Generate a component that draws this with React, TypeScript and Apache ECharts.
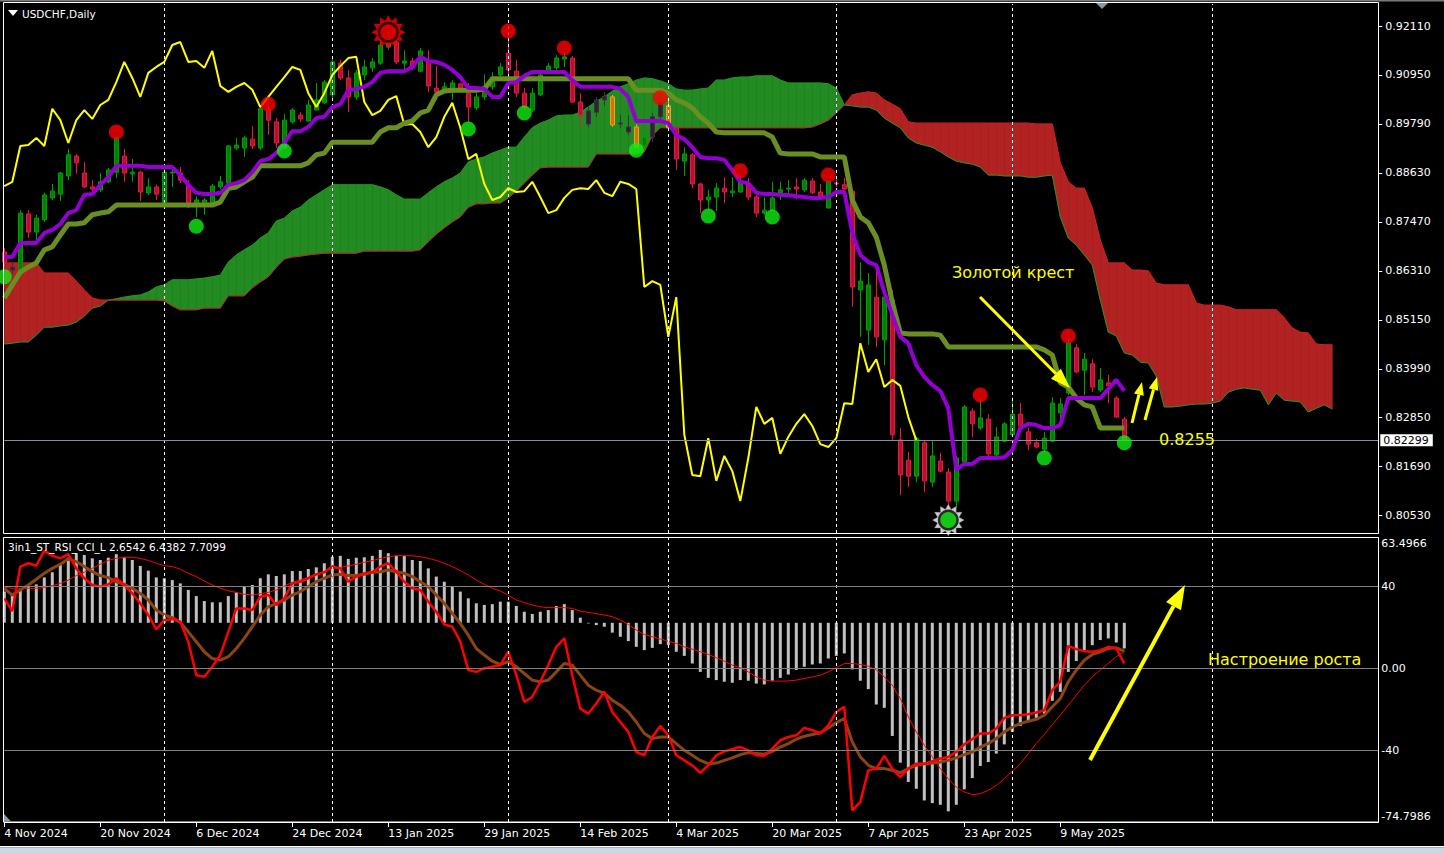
import React, { useEffect, useRef } from 'react';
import * as echarts from 'echarts';

// ---------- data ----------
const X_SLOTS_MAX = 171.75; // visible bar slots on the time axis
const DATE_IDX = [0, 12, 24, 36, 48, 60, 72, 84, 96, 108, 120, 132];
const DATE_LABELS = ['4 Nov 2024', '20 Nov 2024', '6 Dec 2024', '24 Dec 2024', '13 Jan 2025', '29 Jan 2025', '14 Feb 2025', '4 Mar 2025', '20 Mar 2025', '7 Apr 2025', '23 Apr 2025', '9 May 2025'];
const MONTH_STARTS = [20, 41, 63, 83, 104, 126, 151];
const PRICE_TICKS = [0.9211, 0.9095, 0.8979, 0.8863, 0.8747, 0.8631, 0.8515, 0.8399, 0.8285, 0.8169, 0.8053];
const PRICE_MIN = 0.80105;
const PRICE_MAX = 0.92631;
const LAST_PRICE = 0.82299;
const OSC_MIN = -74.7986;
const OSC_MAX = 63.4966;
const OSC_TICKS = [-74.7986, -40, 0, 40, 63.4966];
const OSC_LEVELS = [40, 0, -40];
const HIST_BASE = 22.2;
const CHIKOU_SHIFT = 26;

// [open, close, low, high]
const OHLC = [
  [0.8676,0.8652,0.8638,0.8685],[0.8633,0.8640,0.8626,0.8650],[0.8633,0.8768,0.8621,0.8775],[0.8766,0.8723,0.8709,0.8775],[0.8723,0.8756,0.8704,0.8764],
  [0.8752,0.8811,0.8747,0.8816],[0.8804,0.8820,0.8799,0.8837],[0.8813,0.8863,0.8797,0.8865],[0.8856,0.8906,0.8846,0.8920],[0.8903,0.8887,0.8861,0.8908],
  [0.8863,0.8830,0.8827,0.8889],[0.8830,0.8825,0.8816,0.8846],[0.8823,0.8842,0.8818,0.8863],[0.8842,0.8870,0.8839,0.8875],[0.8865,0.8946,0.8851,0.8948],
  [0.8903,0.8863,0.8842,0.8920],[0.8861,0.8865,0.8842,0.8896],[0.8865,0.8818,0.8797,0.8868],[0.8816,0.8830,0.8811,0.8851],[0.8830,0.8813,0.8799,0.8835],
  [0.8794,0.8865,0.8794,0.8872],[0.8863,0.8865,0.8830,0.8877],[0.8863,0.8846,0.8839,0.8877],[0.8835,0.8792,0.8780,0.8846],[0.8792,0.8799,0.8759,0.8808],
  [0.8787,0.8799,0.8764,0.8804],[0.8792,0.8832,0.8790,0.8837],[0.8830,0.8842,0.8825,0.8856],[0.8839,0.8927,0.8835,0.8929],[0.8922,0.8929,0.8917,0.8946],
  [0.8922,0.8946,0.8901,0.8951],[0.8943,0.8927,0.8920,0.8974],[0.8922,0.9015,0.8917,0.9017],[0.9012,0.8988,0.8953,0.9022],[0.8984,0.8934,0.8922,0.8993],
  [0.8922,0.8988,0.8922,0.9003],[0.8984,0.9012,0.8979,0.9017],[0.9000,0.8991,0.8984,0.9007],[0.8986,0.9024,0.8984,0.9036],[0.9012,0.9036,0.9012,0.9076],
  [0.9029,0.9078,0.9026,0.9083],[0.9048,0.9126,0.9036,0.9138],[0.9123,0.9088,0.9083,0.9131],[0.9088,0.9043,0.9007,0.9107],[0.9043,0.9100,0.9036,0.9107],
  [0.9095,0.9114,0.9083,0.9131],[0.9112,0.9126,0.9102,0.9135],[0.9123,0.9166,0.9119,0.9185],[0.9161,0.9173,0.9154,0.9183],[0.9173,0.9126,0.9121,0.9176],
  [0.9123,0.9128,0.9100,0.9154],[0.9128,0.9112,0.9107,0.9135],[0.9104,0.9152,0.9102,0.9159],[0.9126,0.9069,0.9055,0.9154],[0.9064,0.9055,0.9036,0.9116],
  [0.9055,0.9067,0.9052,0.9078],[0.9060,0.9076,0.9036,0.9083],[0.9074,0.9060,0.9055,0.9076],[0.9052,0.9019,0.8984,0.9076],[0.9017,0.9043,0.9012,0.9052],
  [0.9043,0.9067,0.9036,0.9097],[0.9067,0.9090,0.9060,0.9102],[0.9095,0.9114,0.9083,0.9123],[0.9147,0.9107,0.9090,0.9183],[0.9104,0.9052,0.9043,0.9131],
  [0.9052,0.9019,0.9012,0.9064],[0.9012,0.9052,0.9007,0.9064],[0.9048,0.9095,0.9045,0.9102],[0.9104,0.9116,0.9102,0.9123],[0.9112,0.9135,0.9107,0.9142],
  [0.9133,0.9138,0.9114,0.9147],[0.9135,0.9031,0.9029,0.9140],[0.9031,0.9000,0.8972,0.9052],[0.8979,0.9010,0.8972,0.9019],[0.9007,0.9036,0.8996,0.9043],
  [0.9036,0.9045,0.9022,0.9055],[0.9043,0.8977,0.8972,0.9048],[0.8981,0.8979,0.8970,0.9000],[0.8972,0.8960,0.8953,0.9000],[0.8972,0.8924,0.8924,0.8979],
  [0.8927,0.8948,0.8924,0.8965],[0.8948,0.8996,0.8936,0.9005],[0.8996,0.9029,0.8988,0.9033],[0.9022,0.8970,0.8965,0.9036],[0.8970,0.8896,0.8870,0.8972],
  [0.8891,0.8908,0.8856,0.8924],[0.8906,0.8837,0.8827,0.8910],[0.8837,0.8799,0.8768,0.8839],[0.8799,0.8806,0.8775,0.8823],[0.8806,0.8827,0.8773,0.8839],
  [0.8827,0.8818,0.8792,0.8853],[0.8816,0.8820,0.8806,0.8853],[0.8818,0.8842,0.8816,0.8856],[0.8839,0.8806,0.8799,0.8851],[0.8806,0.8768,0.8759,0.8811],
  [0.8768,0.8775,0.8764,0.8806],[0.8775,0.8804,0.8773,0.8842],[0.8816,0.8823,0.8799,0.8842],[0.8825,0.8827,0.8816,0.8846],[0.8830,0.8825,0.8801,0.8851],
  [0.8823,0.8846,0.8818,0.8851],[0.8844,0.8816,0.8813,0.8851],[0.8818,0.8808,0.8806,0.8837],[0.8780,0.8842,0.8780,0.8846],[0.8839,0.8837,0.8830,0.8853],
  [0.8835,0.8825,0.8823,0.8851],[0.8820,0.8593,0.8546,0.8825],[0.8586,0.8607,0.8475,0.8652],[0.8491,0.8598,0.8456,0.8626],[0.8569,0.8475,0.8451,0.8645],
  [0.8468,0.8569,0.8408,0.8581],[0.8562,0.8243,0.8231,0.8586],[0.8231,0.8148,0.8100,0.8259],[0.8183,0.8145,0.8119,0.8202],[0.8145,0.8235,0.8131,0.8238],
  [0.8224,0.8134,0.8108,0.8231],[0.8131,0.8193,0.8119,0.8231],[0.8181,0.8157,0.8155,0.8200],[0.8155,0.8086,0.8072,0.8164],[0.8086,0.8188,0.8070,0.8193],
  [0.8179,0.8309,0.8172,0.8314],[0.8299,0.8269,0.8238,0.8306],[0.8259,0.8283,0.8254,0.8330],[0.8280,0.8198,0.8190,0.8292],[0.8195,0.8238,0.8190,0.8261],
  [0.8228,0.8269,0.8226,0.8273],[0.8243,0.8292,0.8240,0.8332],[0.8292,0.8264,0.8252,0.8318],[0.8250,0.8221,0.8207,0.8259],[0.8224,0.8214,0.8212,0.8233],
  [0.8209,0.8235,0.8202,0.8250],[0.8228,0.8318,0.8226,0.8332],[0.8295,0.8316,0.8278,0.8330],[0.8342,0.8460,0.8337,0.8468],[0.8449,0.8392,0.8389,0.8458],
  [0.8396,0.8422,0.8337,0.8437],[0.8411,0.8356,0.8344,0.8422],[0.8349,0.8373,0.8344,0.8401],[0.8366,0.8359,0.8318,0.8385],[0.8330,0.8285,0.8283,0.8335],
  [0.8280,0.8230,0.8228,0.8285],
];
const DARK_CANDLES = [1, 73, 74, 75, 77, 78, 81, 82];
const ORANGE_CANDLES = [76, 79, 83];

const TENKAN = [
  0.8664,0.8664,0.8697,0.8697,0.8697,0.8721,0.8728,0.8742,0.8768,0.8775,
  0.8811,0.8813,0.8835,0.8853,0.8880,0.8880,0.8880,0.8880,0.8877,0.8877,
  0.8877,0.8877,0.8858,0.8835,0.8816,0.8813,0.8813,0.8816,0.8835,0.8839,
  0.8846,0.8865,0.8891,0.8896,0.8910,0.8934,0.8962,0.8962,0.8972,0.8993,
  0.8996,0.9019,0.9026,0.9059,0.9062,0.9067,0.9078,0.9100,0.9104,0.9104,
  0.9104,0.9114,0.9138,0.9128,0.9126,0.9119,0.9107,0.9090,0.9064,0.9064,
  0.9062,0.9043,0.9043,0.9076,0.9078,0.9093,0.9102,0.9102,0.9102,0.9102,
  0.9102,0.9083,0.9067,0.9067,0.9067,0.9067,0.9067,0.9062,0.9043,0.8986,
  0.8986,0.8986,0.8986,0.8981,0.8953,0.8943,0.8924,0.8901,0.8898,0.8898,
  0.8894,0.8870,0.8842,0.8839,0.8816,0.8813,0.8813,0.8811,0.8811,0.8808,
  0.8806,0.8804,0.8804,0.8806,0.8818,0.8818,0.8721,0.8669,0.8652,0.8645,
  0.8581,0.8527,0.8475,0.8460,0.8408,0.8380,0.8361,0.8347,0.8306,0.8160,
  0.8174,0.8174,0.8188,0.8188,0.8188,0.8190,0.8207,0.8259,0.8269,0.8266,
  0.8259,0.8259,0.8266,0.8330,0.8330,0.8330,0.8330,0.8330,0.8351,0.8373,
  0.8347,
];
const KIJUN = [
  0.8567,0.8598,0.8628,0.8640,0.8650,0.8681,0.8688,0.8716,0.8742,0.8742,
  0.8745,0.8764,0.8768,0.8771,0.8787,0.8787,0.8787,0.8787,0.8787,0.8787,
  0.8787,0.8787,0.8787,0.8787,0.8787,0.8787,0.8787,0.8794,0.8827,0.8830,
  0.8842,0.8853,0.8880,0.8880,0.8880,0.8880,0.8880,0.8880,0.8887,0.8906,
  0.8910,0.8936,0.8936,0.8936,0.8936,0.8936,0.8936,0.8960,0.8970,0.8970,
  0.8981,0.8986,0.9005,0.9012,0.9048,0.9057,0.9059,0.9059,0.9059,0.9059,
  0.9062,0.9086,0.9086,0.9086,0.9086,0.9086,0.9086,0.9086,0.9086,0.9086,
  0.9086,0.9086,0.9086,0.9086,0.9086,0.9086,0.9086,0.9086,0.9086,0.9059,
  0.9059,0.9059,0.9059,0.9052,0.9036,0.9029,0.9017,0.8996,0.8981,0.8960,
  0.8958,0.8958,0.8958,0.8958,0.8958,0.8958,0.8948,0.8910,0.8908,0.8908,
  0.8908,0.8908,0.8901,0.8901,0.8901,0.8901,0.8799,0.8759,0.8745,0.8711,
  0.8645,0.8557,0.8484,0.8482,0.8482,0.8482,0.8482,0.8479,0.8451,0.8451,
  0.8451,0.8451,0.8451,0.8451,0.8451,0.8451,0.8451,0.8451,0.8451,0.8451,
  0.8444,0.8432,0.8366,0.8356,0.8330,0.8314,0.8309,0.8259,0.8259,0.8259,
  0.8259,
];
const SPAN_A = [
  0.8458,0.8460,0.8463,0.8463,0.8479,0.8498,0.8498,0.8501,0.8503,0.8510,
  0.8524,0.8543,0.8548,0.8562,0.8565,0.8569,0.8572,0.8574,0.8581,0.8593,
  0.8598,0.8610,0.8610,0.8610,0.8612,0.8614,0.8617,0.8621,0.8652,0.8669,
  0.8681,0.8692,0.8709,0.8721,0.8749,0.8756,0.8773,0.8782,0.8799,0.8811,
  0.8823,0.8835,0.8835,0.8835,0.8835,0.8835,0.8835,0.8830,0.8823,0.8811,
  0.8801,0.8801,0.8801,0.8816,0.8830,0.8842,0.8851,0.8863,0.8889,0.8896,
  0.8901,0.8910,0.8917,0.8924,0.8924,0.8948,0.8970,0.8981,0.8988,0.8998,
  0.9000,0.9000,0.9007,0.9019,0.9033,0.9043,0.9057,0.9067,0.9074,0.9083,
  0.9088,0.9086,0.9081,0.9074,0.9062,0.9059,0.9059,0.9062,0.9064,0.9083,
  0.9083,0.9088,0.9090,0.9090,0.9093,0.9093,0.9093,0.9083,0.9076,0.9076,
  0.9076,0.9076,0.9076,0.9074,0.9064,0.9024,0.9022,0.9019,0.9019,0.9012,
  0.8993,0.8981,0.8970,0.8946,0.8934,0.8929,0.8924,0.8913,0.8901,0.8891,
  0.8887,0.8884,0.8877,0.8858,0.8858,0.8856,0.8856,0.8856,0.8853,0.8853,
  0.8856,0.8858,0.8759,0.8709,0.8692,0.8669,0.8645,0.8562,0.8486,0.8477,
  0.8437,0.8432,0.8415,0.8413,0.8382,0.8309,0.8309,0.8311,0.8314,0.8316,
  0.8316,0.8318,0.8323,0.8344,0.8351,0.8354,0.8351,0.8349,0.8314,0.8342,
  0.8325,0.8323,0.8321,0.8297,0.8306,0.8314,0.8304,
];
const SPAN_B = [
  0.8650,0.8650,0.8650,0.8650,0.8650,0.8626,0.8626,0.8626,0.8626,0.8607,
  0.8586,0.8567,0.8562,0.8562,0.8562,0.8562,0.8562,0.8562,0.8562,0.8562,
  0.8560,0.8548,0.8539,0.8539,0.8539,0.8543,0.8543,0.8543,0.8572,0.8572,
  0.8572,0.8591,0.8605,0.8617,0.8640,0.8659,0.8664,0.8666,0.8669,0.8671,
  0.8673,0.8673,0.8673,0.8673,0.8673,0.8678,0.8678,0.8678,0.8678,0.8678,
  0.8678,0.8678,0.8681,0.8700,0.8718,0.8733,0.8747,0.8759,0.8782,0.8790,
  0.8790,0.8792,0.8792,0.8804,0.8820,0.8839,0.8858,0.8875,0.8877,0.8877,
  0.8877,0.8877,0.8877,0.8877,0.8908,0.8908,0.8908,0.8908,0.8908,0.8908,
  0.8913,0.8951,0.8970,0.8970,0.8970,0.8970,0.8970,0.8970,0.8970,0.8970,
  0.8970,0.8970,0.8970,0.8970,0.8970,0.8970,0.8970,0.8970,0.8970,0.8970,
  0.8970,0.8972,0.8979,0.8988,0.9005,0.9024,0.9048,0.9052,0.9055,0.9052,
  0.9036,0.9026,0.9015,0.8984,0.8981,0.8981,0.8981,0.8981,0.8981,0.8981,
  0.8981,0.8981,0.8981,0.8981,0.8981,0.8981,0.8981,0.8981,0.8981,0.8979,
  0.8979,0.8979,0.8887,0.8842,0.8827,0.8827,0.8780,0.8704,0.8650,0.8650,
  0.8650,0.8633,0.8633,0.8631,0.8602,0.8598,0.8598,0.8598,0.8598,0.8555,
  0.8550,0.8550,0.8550,0.8546,0.8539,0.8539,0.8539,0.8539,0.8539,0.8539,
  0.8520,0.8496,0.8486,0.8484,0.8458,0.8456,0.8456,
];
const FRACTAL_UP = [[14,0.8960],[33,0.9026],[63,0.9199],[70,0.9159],[82,0.9041],[92,0.8868],[103,0.8858],[122,0.8337],[133,0.8477]];
const FRACTAL_DOWN = [[0,0.8617],[24,0.8737],[35,0.8915],[58,0.8967],[65,0.9005],[79,0.8917],[88,0.8761],[96,0.8759],[130,0.8188],[140,0.8224]];
const SUN_UP = [48, 0.9196];
const SUN_DOWN = [118, 0.8041];

const OSC_HIST = [
  37.4,35.7,38.2,39.8,40.9,44.3,46.8,50.4,53.9,56.1,
  55.2,53.6,52.8,53.9,55.6,54.1,52.8,49.9,47.6,44.3,
  43.9,43.0,41.4,38.2,35.2,32.8,32.2,32.2,35.2,37.0,
  39.8,40.6,43.9,45.8,45.0,45.8,47.4,47.4,48.4,49.2,
  51.2,54.4,54.8,53.3,53.9,54.1,54.8,57.7,56.1,54.9,
  54.8,52.8,52.3,48.7,44.7,42.2,39.8,37.4,34.1,31.7,
  30.9,31.3,32.5,32.5,30.4,27.6,26.5,27.6,28.4,30.4,
  31.3,28.4,24.7,21.9,21.1,20.3,17.4,15.4,13.3,10.5,
  8.9,10.0,11.8,11.3,8.1,6.1,2.4,-1.7,-4.6,-5.7,
  -6.5,-7.0,-5.7,-6.0,-7.4,-7.8,-6.0,-4.6,-3.0,-0.8,
  0.8,1.9,2.4,4.8,6.1,7.3,-0.5,-6.0,-10.1,-17.6,
  -19.2,-32.9,-45.9,-55.3,-58.6,-64.3,-65.6,-66.4,-69.6,-66.4,
  -58.9,-53.4,-47.5,-45.6,-41.5,-37.0,-30.9,-28.0,-26.0,-24.1,
  -22.0,-15.8,-11.4,-1.7,3.6,8.9,11.3,13.8,14.6,12.6,
  9.7,
];
const OSC_MAIN = [
  34.1,27.9,49.6,51.2,50.0,57.2,54.9,53.6,55.6,48.7,
  43.9,40.6,39.8,40.9,43.9,40.6,36.5,31.7,26.0,19.0,
  23.5,24.0,22.7,13.0,-3.3,-4.1,0.8,6.5,17.8,29.2,
  29.2,28.4,34.9,35.7,30.9,34.1,41.4,42.2,43.9,45.8,
  46.8,49.6,48.7,42.2,44.7,46.3,46.8,49.6,51.2,47.1,
  42.2,39.0,38.2,32.5,27.6,21.4,20.3,13.0,-0.8,-1.7,
  0.0,0.8,1.6,8.1,-3.3,-16.3,-13.9,-6.5,1.6,10.5,
  14.6,-3.3,-19.6,-22.0,-17.1,-11.4,-21.2,-26.1,-30.9,-40.7,
  -42.3,-33.4,-28.0,-32.6,-42.3,-44.8,-47.2,-50.8,-47.2,-42.3,
  -40.4,-39.4,-38.3,-39.9,-42.3,-42.6,-39.1,-35.0,-33.4,-32.6,
  -29.0,-30.1,-31.7,-27.7,-21.2,-18.7,-69.1,-65.1,-49.6,-48.8,
  -42.6,-48.8,-52.9,-48.8,-46.4,-46.4,-45.2,-43.9,-43.1,-40.7,
  -37.0,-34.5,-31.7,-31.7,-29.3,-24.1,-22.8,-22.8,-22.3,-21.5,
  -20.4,-10.6,-6.5,11.0,9.4,8.4,8.1,8.9,10.5,9.7,
  2.4,
];
const OSC_SMOOTH = [
  39.0,35.7,38.2,40.6,43.4,46.3,48.7,50.7,53.3,52.0,
  49.6,47.1,45.2,44.2,42.2,40.9,39.0,36.5,33.3,28.4,
  26.0,24.7,22.4,17.8,13.0,8.1,4.8,4.0,5.7,9.7,
  14.6,20.3,26.0,30.0,31.7,33.3,35.7,37.4,39.8,42.2,
  43.9,45.5,45.8,45.2,45.2,45.8,46.8,47.1,47.9,47.1,
  46.3,44.7,42.2,39.8,35.7,31.7,26.8,21.9,16.2,9.7,
  6.5,3.5,1.9,3.3,0.8,-2.5,-5.7,-6.5,-5.7,-1.7,
  2.4,1.6,-3.3,-8.2,-10.6,-12.2,-15.5,-17.9,-21.2,-26.1,
  -31.7,-34.2,-33.4,-33.4,-36.6,-39.9,-42.3,-44.8,-46.4,-46.1,
  -44.8,-43.6,-42.0,-41.0,-41.5,-41.8,-40.4,-38.3,-36.6,-34.5,
  -33.0,-32.2,-31.3,-29.0,-26.4,-24.4,-35.8,-43.1,-47.2,-48.8,
  -48.8,-49.6,-50.8,-48.8,-47.2,-46.4,-46.1,-45.6,-44.8,-43.6,
  -42.0,-40.7,-38.3,-36.6,-34.2,-30.9,-28.5,-26.9,-25.7,-24.8,
  -22.8,-18.7,-14.7,-6.5,-0.8,4.0,6.8,8.1,9.7,10.0,
  8.4,
];
const OSC_SIGNAL = [
  39.5,39.0,39.0,39.0,39.0,39.3,40.3,41.4,43.0,45.2,
  46.8,48.7,50.7,52.6,53.6,54.1,54.1,53.6,52.6,51.2,
  50.0,49.6,48.3,46.3,44.7,42.6,40.6,39.0,37.8,37.0,
  36.1,35.7,36.4,37.0,38.2,40.1,41.9,43.0,44.3,45.5,
  47.1,48.7,49.2,49.9,50.7,51.7,52.5,53.5,54.4,54.9,
  54.9,54.8,54.4,53.6,52.6,51.2,49.6,47.6,45.5,43.0,
  40.9,39.0,37.7,35.7,33.3,32.0,30.9,30.0,29.6,29.6,
  29.6,29.2,27.9,27.3,26.6,26.0,25.2,23.5,21.4,18.7,
  16.5,15.4,14.3,13.3,12.2,10.5,9.4,8.1,6.8,5.2,
  3.5,1.6,0.3,-1.7,-4.1,-5.7,-6.2,-6.2,-6.1,-5.7,
  -4.9,-4.1,-3.3,-1.7,0.3,2.4,2.4,1.9,1.1,-0.8,
  -4.1,-8.2,-14.7,-23.6,-30.9,-37.4,-43.1,-48.8,-53.7,-57.8,
  -60.2,-61.5,-61.0,-59.4,-57.0,-53.7,-50.1,-46.4,-41.5,-36.6,
  -32.2,-27.4,-22.8,-17.9,-13.0,-8.2,-4.1,-0.8,2.4,5.7,
  8.1,
];

// ---------- styles ----------
const FONT = 'DejaVu Sans';
const CLOUD_UP = '#228B22';
const CLOUD_DOWN = '#B22222';

function starSymbol(n: number, rIn: number): string {
  let d = '';
  for (let i = 0; i < 2 * n; i++) {
    const r = i % 2 === 0 ? 50 : 50 * rIn;
    const a = (Math.PI * i) / n - Math.PI / 2;
    d += (i === 0 ? 'M' : 'L') + (50 + r * Math.cos(a)).toFixed(2) + ' ' + (50 + r * Math.sin(a)).toFixed(2) + ' ';
  }
  return 'path://' + d + 'Z';
}

function arrow(x1: number, y1: number, x2: number, y2: number, lw: number, hl: number, hw: number, color: string) {
  const dx = x2 - x1, dy = y2 - y1;
  const len = Math.hypot(dx, dy);
  const ux = dx / len, uy = dy / len;
  const bx = x2 - ux * hl, by = y2 - uy * hl;
  const nx = -uy, ny = ux;
  return [
    { type: 'line', z: 100, shape: { x1, y1, x2: bx, y2: by }, style: { stroke: color, lineWidth: lw } },
    { type: 'polygon', z: 100, shape: { points: [[x2, y2], [bx + (nx * hw) / 2, by + (ny * hw) / 2], [bx - (nx * hw) / 2, by - (ny * hw) / 2]] }, style: { fill: color } },
  ];
}

function buildOption(): any {
  const candleData = OHLC.map((d, i) => {
    const v = [i, d[0], d[1], d[2], d[3]];
    if (DARK_CANDLES.includes(i)) {
      return { value: v, itemStyle: { color: '#2f2236', color0: '#2f2236', borderColor: '#3d2f45', borderColor0: '#3d2f45' } };
    }
    if (ORANGE_CANDLES.includes(i)) {
      return { value: v, itemStyle: { color: '#c8780a', color0: '#c8780a', borderColor: '#ff9a1f', borderColor0: '#ff9a1f' } };
    }
    return v;
  });
  const cloudData: number[][] = [];
  for (let i = 0; i < SPAN_A.length - 1; i++) {
    cloudData.push([i, SPAN_A[i], SPAN_B[i], SPAN_A[i + 1], SPAN_B[i + 1]]);
  }
  const chikou = OHLC.slice(CHIKOU_SHIFT).map((d, k) => [k, d[1]]);
  const series1 = (arr: number[]) => arr.map((v, i) => [i, v]);
  const star = starSymbol(12, 0.7);
  const yellow = '#FFFF00';

  const poly = (pts: number[][], up: boolean) => ({
    type: 'polygon',
    shape: { points: pts },
    style: { fill: up ? CLOUD_UP : CLOUD_DOWN, stroke: up ? CLOUD_UP : CLOUD_DOWN, lineWidth: 0.6 },
  });

  const dashed = { color: '#ffffff', type: [3, 3], width: 1 };

  return {
    animation: false,
    backgroundColor: '#000000',
    grid: [
      { left: 4.3, top: 4, width: 1374, height: 529, containLabel: false, outerBoundsMode: 'none', show: false },
      { left: 4.3, top: 538, width: 1374, height: 284, containLabel: false, outerBoundsMode: 'none', show: false },
    ],
    xAxis: [
      { type: 'value', gridIndex: 0, min: 0, max: X_SLOTS_MAX, show: false, splitLine: { show: false } },
      {
        type: 'value', gridIndex: 1, min: 0, max: X_SLOTS_MAX,
        axisLine: { show: true, onZero: false, lineStyle: { color: '#ffffff', width: 1 } },
        axisTick: { show: true, customValues: DATE_IDX, length: 5, lineStyle: { color: '#ffffff' } },
        axisLabel: {
          customValues: DATE_IDX, color: '#ffffff', fontSize: 11, fontFamily: FONT, align: 'left', margin: 6,
          formatter: (v: number) => DATE_LABELS[DATE_IDX.indexOf(v)] || '',
        },
        splitLine: { show: false },
      },
    ],
    yAxis: [
      {
        type: 'value', gridIndex: 0, position: 'right', min: PRICE_MIN, max: PRICE_MAX,
        axisLine: { show: true, onZero: false, lineStyle: { color: '#ffffff', width: 1 } },
        axisTick: { show: true, customValues: PRICE_TICKS, length: 4, lineStyle: { color: '#ffffff' } },
        axisLabel: { customValues: PRICE_TICKS, color: '#ffffff', fontSize: 11, fontFamily: FONT, margin: 7, formatter: (v: number) => v.toFixed(5) },
        splitLine: { show: false },
      },
      {
        type: 'value', gridIndex: 1, position: 'right', min: OSC_MIN, max: OSC_MAX,
        axisLine: { show: true, onZero: false, lineStyle: { color: '#ffffff', width: 1 } },
        axisTick: { show: false },
        axisLabel: {
          customValues: OSC_TICKS, color: '#ffffff', fontSize: 11, fontFamily: FONT, margin: 3,
          verticalAlignMinLabel: 'bottom', verticalAlignMaxLabel: 'top',
          formatter: (v: number) => (v === 0 ? '0.00' : String(v)),
        },
        splitLine: { show: false },
      },
    ],
    series: [
      {
        type: 'custom', name: 'Kumo', xAxisIndex: 0, yAxisIndex: 0, z: 1,
        data: cloudData, encode: { x: 0, y: [1, 2, 3, 4] },
        renderItem: (params: any, api: any) => {
          const x0 = api.value(0);
          const a0 = api.value(1), b0 = api.value(2), a1 = api.value(3), b1 = api.value(4);
          const pa0 = api.coord([x0, a0]), pb0 = api.coord([x0, b0]);
          const pa1 = api.coord([x0 + 1, a1]), pb1 = api.coord([x0 + 1, b1]);
          const d0 = a0 - b0, d1 = a1 - b1;
          if (d0 * d1 >= 0) return poly([pa0, pa1, pb1, pb0], d0 + d1 >= 0);
          const t = d0 / (d0 - d1);
          const c = [pa0[0] + t * (pa1[0] - pa0[0]), pa0[1] + t * (pa1[1] - pa0[1])];
          return { type: 'group', children: [poly([pa0, c, pb0], d0 > 0), poly([c, pa1, pb1], d1 > 0)] };
        },
        markLine: {
          silent: true, symbol: ['none', 'none'], label: { show: false },
          lineStyle: dashed,
          data: MONTH_STARTS.map((x) => ({ xAxis: x })),
        },
      },
      { type: 'line', name: 'Span A', xAxisIndex: 0, yAxisIndex: 0, z: 2, data: series1(SPAN_A), showSymbol: false, lineStyle: { color: '#1f9a1f', width: 1 } },
      { type: 'line', name: 'Span B', xAxisIndex: 0, yAxisIndex: 0, z: 2, data: series1(SPAN_B), showSymbol: false, lineStyle: { color: '#d02020', width: 1 } },
      {
        type: 'candlestick', name: 'USDCHF', xAxisIndex: 0, yAxisIndex: 0, z: 3,
        data: candleData, encode: { x: 0, y: [1, 2, 3, 4] }, barWidth: 5,
        itemStyle: { color: '#008000', color0: '#b5122f', borderColor: '#00a000', borderColor0: '#e8193c', borderWidth: 1 },
      },
      { type: 'line', name: 'Chikou', xAxisIndex: 0, yAxisIndex: 0, z: 4, data: chikou, showSymbol: false, lineStyle: { color: yellow, width: 2 } },
      {
        type: 'line', name: 'Kijun', xAxisIndex: 0, yAxisIndex: 0, z: 5, data: series1(KIJUN), showSymbol: false, lineStyle: { color: '#6B8E23', width: 5 },
        markLine: {
          silent: true, symbol: ['none', 'none'], precision: 5,
          lineStyle: { color: '#8090a0', width: 1, type: 'solid' },
          label: { show: true, position: 'end', formatter: LAST_PRICE.toFixed(5), backgroundColor: '#ffffff', color: '#000000', fontSize: 11, fontFamily: FONT, padding: [1, 4, 0, 3], distance: 2 },
          data: [{ yAxis: LAST_PRICE }],
        },
      },
      { type: 'line', name: 'Tenkan', xAxisIndex: 0, yAxisIndex: 0, z: 6, data: series1(TENKAN), showSymbol: false, lineStyle: { color: '#9400D3', width: 4 } },
      { type: 'scatter', name: 'Fractal up', xAxisIndex: 0, yAxisIndex: 0, z: 7, data: FRACTAL_UP, symbol: 'circle', symbolSize: 15, itemStyle: { color: '#ff0000' } },
      { type: 'scatter', name: 'Fractal down', xAxisIndex: 0, yAxisIndex: 0, z: 7, data: FRACTAL_DOWN, symbol: 'circle', symbolSize: 15, itemStyle: { color: '#11ee11' } },
      { type: 'scatter', xAxisIndex: 0, yAxisIndex: 0, z: 8, data: [SUN_UP], symbol: star, symbolSize: 34, itemStyle: { color: '#ff0000' } },
      { type: 'scatter', xAxisIndex: 0, yAxisIndex: 0, z: 8, data: [SUN_UP], symbol: 'circle', symbolSize: 21, itemStyle: { color: '#000000' } },
      { type: 'scatter', xAxisIndex: 0, yAxisIndex: 0, z: 8, data: [SUN_UP], symbol: 'circle', symbolSize: 16, itemStyle: { color: '#ff0000' } },
      { type: 'scatter', xAxisIndex: 0, yAxisIndex: 0, z: 8, data: [SUN_DOWN], symbol: star, symbolSize: 32, itemStyle: { color: '#ffffff', borderColor: '#555555', borderWidth: 0.5 } },
      { type: 'scatter', xAxisIndex: 0, yAxisIndex: 0, z: 8, data: [SUN_DOWN], symbol: 'circle', symbolSize: 21, itemStyle: { color: '#000000' } },
      { type: 'scatter', xAxisIndex: 0, yAxisIndex: 0, z: 8, data: [SUN_DOWN], symbol: 'circle', symbolSize: 16, itemStyle: { color: '#11ee11' } },

      // oscillator panel
      {
        type: 'custom', name: 'Histogram', xAxisIndex: 1, yAxisIndex: 1, z: 1,
        data: series1(OSC_HIST), encode: { x: 0, y: 1 },
        renderItem: (params: any, api: any) => {
          const x = api.value(0), v = api.value(1);
          const p = api.coord([x, v]);
          const b = api.coord([x, HIST_BASE]);
          return { type: 'rect', shape: { x: p[0] - 1.5, y: Math.min(p[1], b[1]), width: 3, height: Math.abs(b[1] - p[1]) }, style: { fill: '#c0c0c0' } };
        },
        markLine: {
          silent: true, symbol: ['none', 'none'], label: { show: false }, precision: 4,
          data: [
            ...MONTH_STARTS.map((x) => ({ xAxis: x, lineStyle: dashed })),
            ...OSC_LEVELS.map((y) => ({ yAxis: y, lineStyle: { color: '#808080', width: 1, type: 'solid' } })),
          ],
        },
      },
      { type: 'line', name: 'Signal', xAxisIndex: 1, yAxisIndex: 1, z: 2, data: series1(OSC_SIGNAL), showSymbol: false, lineStyle: { color: '#ff0000', width: 1 } },
      { type: 'line', name: 'Smooth', xAxisIndex: 1, yAxisIndex: 1, z: 3, data: series1(OSC_SMOOTH), showSymbol: false, lineStyle: { color: '#8B4513', width: 3 } },
      { type: 'line', name: 'Main', xAxisIndex: 1, yAxisIndex: 1, z: 4, data: series1(OSC_MAIN), showSymbol: false, lineStyle: { color: '#ff0000', width: 2.5 } },
    ],
    graphic: [
      { type: 'rect', z: 100, shape: { x: 0, y: 0, width: 1444, height: 1.5 }, style: { fill: '#7a7a7a' } },
      { type: 'rect', z: 100, shape: { x: 3.5, y: 2.5, width: 1375, height: 531 }, style: { fill: 'none', stroke: '#ffffff', lineWidth: 1 } },
      { type: 'rect', z: 100, shape: { x: 3.5, y: 537.5, width: 1375, height: 284.5 }, style: { fill: 'none', stroke: '#ffffff', lineWidth: 1 } },
      { type: 'rect', z: 100, shape: { x: 0, y: 846, width: 1444, height: 1.5 }, style: { fill: '#ffffff' } },
      { type: 'rect', z: 100, shape: { x: 0, y: 847.5, width: 1444, height: 6 }, style: { fill: '#cad7e6' } },
      { type: 'polygon', z: 100, shape: { points: [[8, 10], [18, 10], [13, 16]] }, style: { fill: '#ffffff' } },
      { type: 'polygon', z: 100, shape: { points: [[1096, 3], [1108, 3], [1102, 9]] }, style: { fill: '#8899aa' } },
      { type: 'polygon', z: 100, shape: { points: [[4, 814], [4, 821.5], [11, 821.5]] }, style: { fill: '#8899aa' } },
      { type: 'text', z: 100, x: 22, y: 14, style: { text: 'USDCHF,Daily', fill: '#ffffff', fontSize: 10.5, fontFamily: FONT, verticalAlign: 'middle', align: 'left' } },
      { type: 'text', z: 100, x: 8, y: 547, style: { text: '3in1_ST_RSI_CCI_L 2.6542 6.4382 7.7099', fill: '#ffffff', fontSize: 10.5, fontFamily: FONT, verticalAlign: 'middle', align: 'left' } },
      { type: 'text', z: 100, x: 952, y: 272, style: { text: 'Золотой крест', fill: yellow, fontSize: 16, fontFamily: FONT, verticalAlign: 'middle', align: 'left' } },
      { type: 'text', z: 100, x: 1159, y: 439, style: { text: '0.8255', fill: yellow, fontSize: 16, fontFamily: FONT, verticalAlign: 'middle', align: 'left' } },
      { type: 'text', z: 100, x: 1208, y: 659, style: { text: 'Настроение роста', fill: yellow, fontSize: 16, fontFamily: FONT, verticalAlign: 'middle', align: 'left' } },
      ...arrow(980, 297, 1070, 388, 3, 20, 14, yellow),
      ...arrow(1132, 423, 1142, 382, 3, 13, 10, yellow),
      ...arrow(1145, 420, 1157, 377, 3, 13, 10, yellow),
      ...arrow(1090, 760, 1185, 585, 4, 24, 17, yellow),
    ],
  };
}

export default function App() {
  const ref = useRef<HTMLDivElement>(null);
  useEffect(() => {
    document.body.style.margin = '0';
    const chart = echarts.init(ref.current as HTMLDivElement, undefined, { renderer: 'svg' });
    chart.setOption(buildOption());
    return () => chart.dispose();
  }, []);
  return <div ref={ref} style={{ position: 'absolute', left: 0, top: 0, width: 1444, height: 853, background: '#000' }} />;
}
